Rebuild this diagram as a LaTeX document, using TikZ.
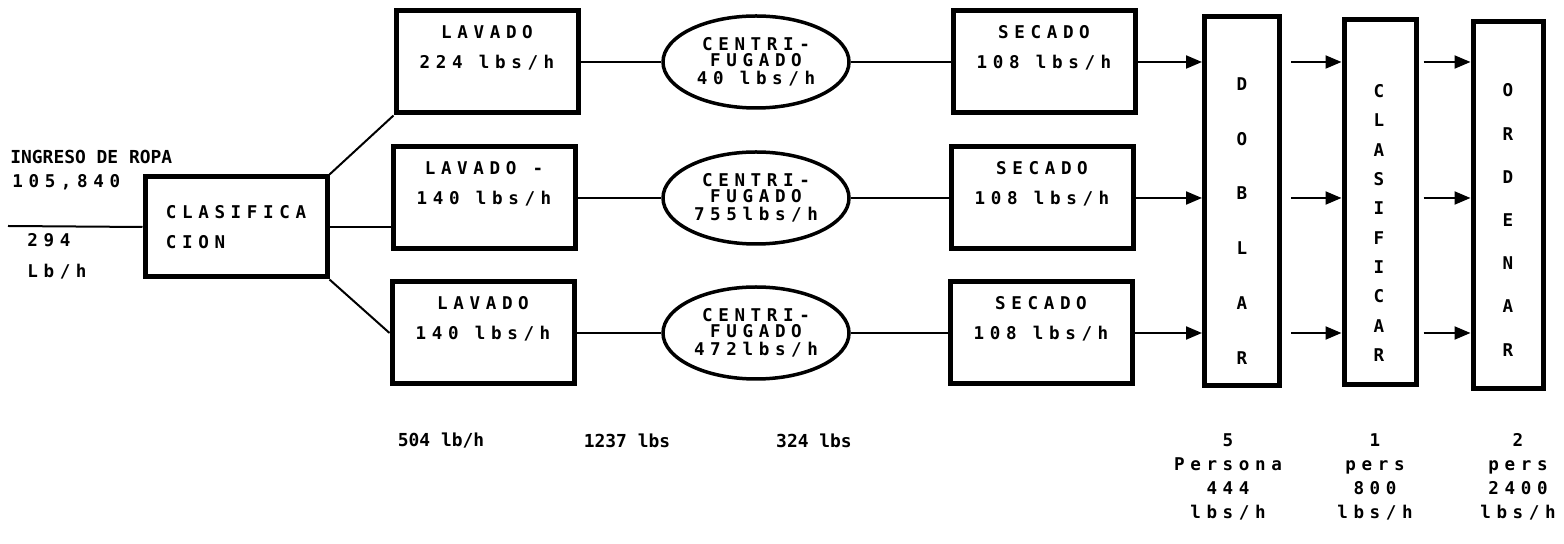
\documentclass[tikz,border=0pt]{standalone}
\usepackage{fontspec}
\usetikzlibrary{shapes.geometric,arrows.meta}
\newfontfamily\plotfont[LetterSpace=32]{DejaVu Sans Mono}
\newfontfamily\plotnarrow{DejaVu Sans Mono}
\newcommand{\plotset}[1]{\plotfont\bfseries\fontsize{10}{#1}\selectfont\lineskiplimit=-100pt\relax}
\begin{document}
\begin{tikzpicture}[x=0.2mm, y=-0.2mm,
  box/.style={draw, line width=1mm, minimum width=36.4mm, minimum height=20.4mm, inner sep=0pt, align=center, font=\plotset{17pt}},
  centri/.style={draw, ellipse, line width=0.7mm, minimum width=37.2mm, minimum height=18.4mm, inner sep=0pt, align=center, font=\plotset{9.2pt}},
  tallbox/.style={draw, line width=1mm, inner sep=0pt},
  stack/.style={inner sep=0pt, align=center, font=\plotset{#1}},
  link/.style={line width=0.4mm},
  flow/.style={line width=0.4mm, -{Triangle[length=3.2mm,width=2.6mm]}},
  crew/.style={inner sep=0pt, align=center, font=\plotset{13.6pt}},
  total/.style={inner sep=0pt, font=\plotnarrow\bfseries\fontsize{10.2}{11}\selectfont}]
  \useasboundingbox (0,0) rectangle (1564,544);

  % Entrada y clasificacion
  \coordinate (entrada) at (8,226);
  \node[total, anchor=west] (ingreso) at (10,157) {INGRESO DE ROPA};
  \node[crew, anchor=west] (anual) at (12,182) {105,840};
  \node[crew, anchor=west] (flujo) at (27,240) {294};
  \node[crew, anchor=west] (flujoUnit) at (27,272) {Lb/h};
  \node[box, align=left, minimum height=20mm] (clas) at (236,227) {CLASIFICA\\CION};
  \draw[link] (entrada) -- (clas.west);

  % Lavado
  \node[box] (lav1) at (487,62) {LAVADO\\224 lbs/h\\~};
  \node[box] (lav2) at (484,198) {LAVADO -\\140 lbs/h\\~};
  \node[box] (lav3) at (483,333) {LAVADO\\140 lbs/h\\~};
  \draw[link] (clas.north east) -- (lav1.south west);
  \draw[link] (clas.east) -- (clas.east -| lav2.west);
  \draw[link] (clas.south east) -- (lav3.west);

  % Centrifugado
  \node[centri] (cen1) at (756,62) {CENTRI-\\FUGADO\\[0.4mm]40 lbs/h};
  \node[centri] (cen2) at (756,198) {CENTRI-\\FUGADO\\[0.4mm]755lbs/h};
  \node[centri] (cen3) at (756,333) {CENTRI-\\FUGADO\\[0.4mm]472lbs/h};
  \draw[link] (lav1.east) -- (cen1.west);
  \draw[link] (lav2.east) -- (cen2.west);
  \draw[link] (lav3.east) -- (cen3.west);

  % Secado
  \node[box] (sec1) at (1044,62) {SECADO\\108 lbs/h\\~};
  \node[box] (sec2) at (1042,198) {SECADO\\108 lbs/h\\~};
  \node[box] (sec3) at (1041,333) {SECADO\\108 lbs/h\\~};
  \draw[link] (cen1.east) -- (sec1.west);
  \draw[link] (cen2.east) -- (sec2.west);
  \draw[link] (cen3.east) -- (sec3.west);

  % Doblar, clasificar, ordenar
  \node[tallbox, minimum width=15mm, minimum height=73.6mm] (doblar) at (1242,201) {};
  \node[stack=31.2pt] (doblarTxt) at (1242,221) {D\\O\\B\\L\\A\\R};
  \node[tallbox, minimum width=14.4mm, minimum height=72.8mm] (clasif) at (1380,202) {};
  \node[stack=16.7pt] (clasifTxt) at (1379,223) {C\\L\\A\\S\\I\\F\\I\\C\\A\\R};
  \node[tallbox, minimum width=14mm, minimum height=73.2mm] (ordenar) at (1508,205) {};
  \node[stack=24.6pt] (ordenarTxt) at (1508,220) {O\\R\\D\\E\\N\\A\\R};

  \draw[flow] (sec1.east) -- (sec1.east -| doblar.west);
  \draw[flow] (sec2.east) -- (sec2.east -| doblar.west);
  \draw[flow] (sec3.east) -- (sec3.east -| doblar.west);
  \draw[flow, shorten <=1.8mm] (doblar.east |- sec1.east) -- (clasif.west |- sec1.east);
  \draw[flow, shorten <=1.8mm] (doblar.east |- sec2.east) -- (clasif.west |- sec2.east);
  \draw[flow, shorten <=1.8mm] (doblar.east |- sec3.east) -- (clasif.west |- sec3.east);
  \draw[flow, shorten <=1mm] (clasif.east |- sec1.east) -- (ordenar.west |- sec1.east);
  \draw[flow, shorten <=1mm] (clasif.east |- sec2.east) -- (ordenar.west |- sec2.east);
  \draw[flow, shorten <=1mm] (clasif.east |- sec3.east) -- (ordenar.west |- sec3.east);

  % Totales
  \node[total] (lavTotal) at (441,441) {504 lb/h};
  \node[total] (cenTotal) at (627,441) {1237 lbs};
  \node[total] (secTotal) at (814,441) {324 lbs};
  \node[crew] (doblarCrew) at (1228,477) {5\\Persona\\444\\lbs/h};
  \node[crew] (clasifCrew) at (1375,477) {1\\pers\\800\\lbs/h};
  \node[crew] (ordenarCrew) at (1518,477) {2\\pers\\2400\\lbs/h};
\end{tikzpicture}
\end{document}
